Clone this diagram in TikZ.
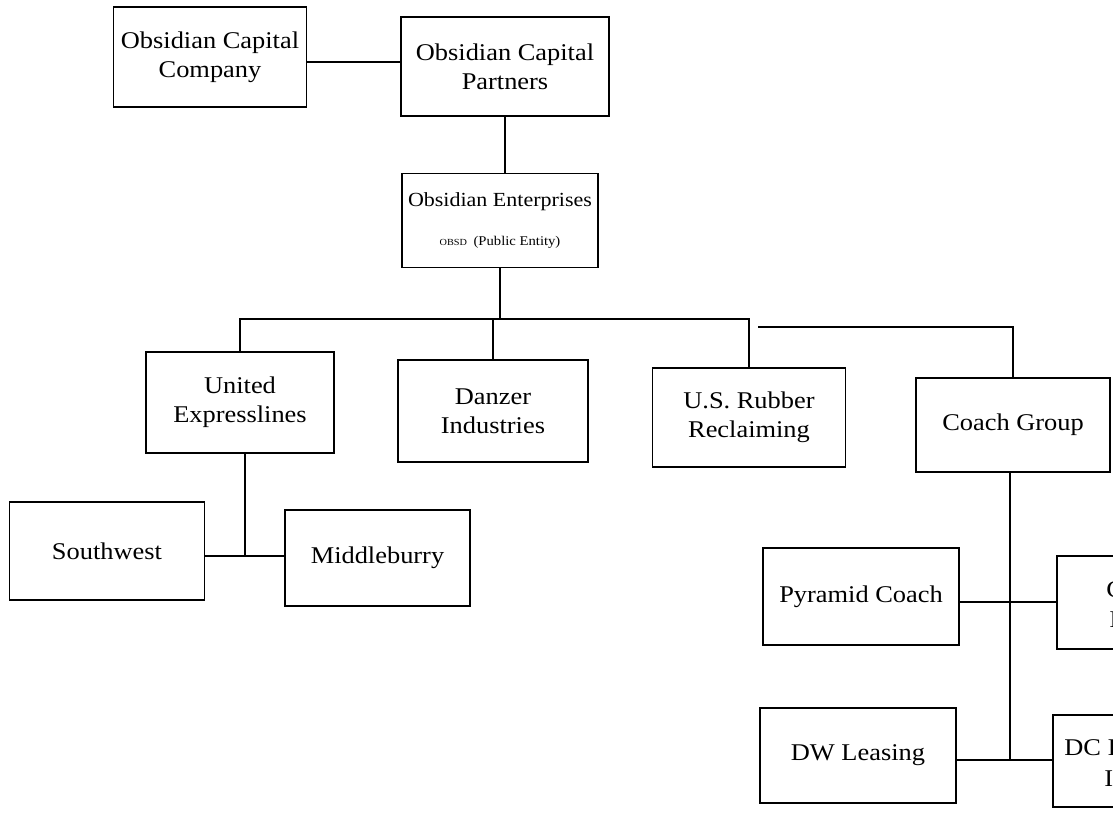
\documentclass[tikz,border=0pt]{standalone}
\usepackage{fontspec}
\setmainfont{Liberation Serif}[FakeStretch=1.1]
\tikzset{
  bx/.style 2 args={draw, line width=1.2pt, minimum width=#1*0.75pt,
    minimum height=#2*0.75pt, inner sep=0pt, align=center,
    font=\fontsize{18}{22}\selectfont},
  ln/.style={line width=1.2pt},
  frag/.style={anchor=base west, inner sep=0pt, font=\fontsize{18}{22}\selectfont}
}
\begin{document}
\begin{tikzpicture}[x=0.75pt,y=-0.75pt]
\useasboundingbox (0,0) rectangle (1113,816);
\clip (0,0) rectangle (1113,816);
\fill[white] (0,0) rectangle (1113,816);

% top level
\node[bx={193}{100}] (occ) at (210,57) {Obsidian Capital\\Company};
\node[bx={208}{99}] (ocp) at (505,66.5) {Obsidian Capital\\Partners};
\node[bx={196}{94}] (oe) at (500,220.5)
  {{\fontsize{15}{18}\selectfont Obsidian Enterprises}\\[7pt]
   {\fontsize{7}{8}\selectfont OBSD} {\fontsize{10}{11}\selectfont (Public Entity)}};

% second level
\node[bx={188}{101}] (ue) at (240,402.5) {United\\Expresslines};
\node[bx={190}{102}] (di) at (493,411) {Danzer\\Industries};
\node[bx={193}{99}] (usr) at (749,417.5) {U.S. Rubber\\Reclaiming};
\node[bx={194}{94}] (cg) at (1013,425) {Coach Group};

% third level
\node[bx={195}{98}] (sw) at (107,551) {Southwest};
\node[bx={185}{96}] (mb) at (377.5,558) {Middleburry};
\node[bx={196}{97}] (pc) at (861,596.5) {Pyramid Coach};
\node[bx={195}{93}] (cx) at (1154.5,602.5) {};
\node[bx={196}{95}] (dw) at (858,755.5) {DW Leasing};
\node[bx={195}{92}] (dc) at (1150.5,761) {};
\node[frag] (cxa) at (1106,597) {C};
\node[frag] (cxb) at (1109,627) {I};
\node[frag] (dca) at (1064,755) {DC I};
\node[frag] (dcb) at (1104,786) {I};

% connectors
\draw[ln] (occ.east) ++(0,5) coordinate (t1) -- (t1 -| ocp.west);
\draw[ln] (ocp.south) -- (ocp.south |- oe.north);

\coordinate (bus) at (500,319);
\coordinate (bus2) at (758,327);
\draw[ln] (oe.south) -- (oe.south |- bus);
\draw[ln] (ue.north) -- (ue.north |- bus) -- (usr.north |- bus) -- (usr.north);
\draw[ln] (di.north) -- (di.north |- bus);
\draw[ln] (bus2) -- (bus2 -| cg.north) -- (cg.north);

\coordinate (uj) at (245,556);
\draw[ln] (uj |- ue.south) -- (uj);
\draw[ln] (sw.east |- uj) -- (mb.west |- uj);

\coordinate (cj1) at (1010,602);
\coordinate (cj2) at (1010,760);
\draw[ln] (cg.south -| cj1) -- (cj2);
\draw[ln] (pc.east |- cj1) -- (cx.west |- cj1);
\draw[ln] (dw.east |- cj2) -- (dc.west |- cj2);
\end{tikzpicture}
\end{document}
